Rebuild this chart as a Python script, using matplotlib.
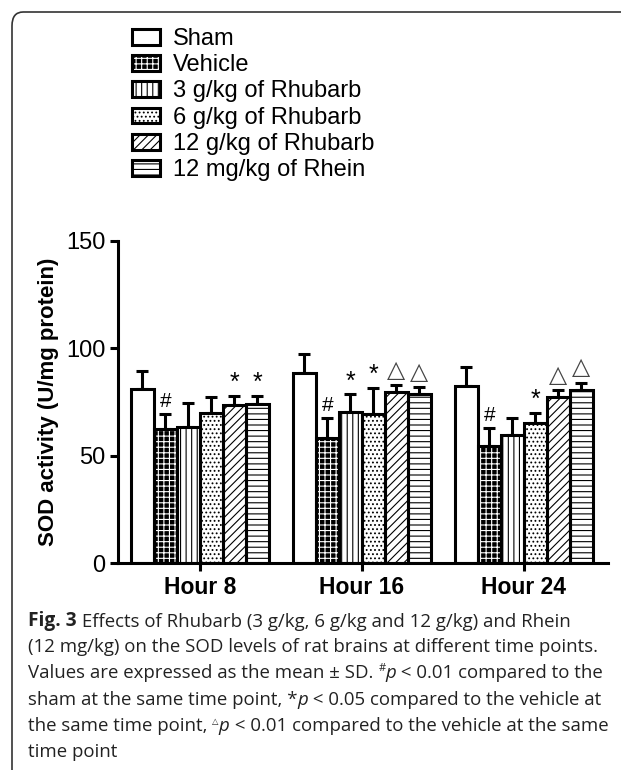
import matplotlib
matplotlib.use("Agg")
import matplotlib.pyplot as plt
from matplotlib.patches import Patch, FancyBboxPatch
from matplotlib.legend_handler import HandlerTuple
import numpy as np

# Data
groups = ["Hour 8", "Hour 16", "Hour 24"]
series = ["Sham", "Vehicle", "3 g/kg of Rhubarb", "6 g/kg of Rhubarb",
          "12 g/kg of Rhubarb", "12 mg/kg of Rhein"]
means = [
    [81, 62.5, 63.5, 70, 73.5, 74],      # Hour 8
    [88.5, 58, 70.5, 69.5, 79.5, 78.5],  # Hour 16
    [82.5, 54.5, 59.5, 65, 77.5, 80.5],  # Hour 24
]
sds = [
    [8.5, 7, 11, 7.5, 4.5, 4],
    [9, 9.5, 8, 12, 3.5, 3.5],
    [9, 8.5, 8, 5, 3, 3.5],
]
marks = [
    ["", "#", "", "", "*", "*"],
    ["", "#", "*", "*", "△", "△"],
    ["", "#", "", "*", "△", "△"],
]
yticks = [0, 50, 100, 150]

# hatch styles per series
face = ["white", "black", "white", "white", "white", "white"]
hatch_col = ["black", "white", "black", "black", "black", "black"]
hatches = [None, "+++", "|||", "....", "////", "---"]

plt.rcParams["font.family"] = ["Liberation Sans", "DejaVu Sans"]
plt.rcParams["hatch.linewidth"] = 0.8

fig = plt.figure(figsize=(6.21, 7.70), dpi=100)
ax = fig.add_axes([118 / 621, 1 - 563 / 770, 490 / 621, 322 / 770])

means = np.array(means)
sds = np.array(sds)
x = np.arange(len(groups))
w = 0.142
lw = 2.2

for i in range(len(series)):
    xi = x + (i - 2.5) * w
    m = means[:, i]
    s = sds[:, i]
    if hatches[i]:
        ax.bar(xi, m, w, color=face[i], edgecolor=hatch_col[i], hatch=hatches[i],
               linewidth=0, zorder=2)
    else:
        ax.bar(xi, m, w, color=face[i], linewidth=0, zorder=2)
    ax.bar(xi, m, w, fill=False, edgecolor="black", linewidth=lw, zorder=3)
    ax.errorbar(xi, m, yerr=[np.zeros_like(s), s], fmt="none", ecolor="black",
                elinewidth=lw, capsize=4.5, capthick=lw, zorder=1)
    for j in range(len(groups)):
        t = marks[j][i]
        top = m[j] + s[j]
        if t == "#":
            ax.text(xi[j], top + 1.5, t, ha="center", va="bottom", fontsize=15)
        elif t == "*":
            ax.text(xi[j], top + 0.5, t, ha="center", va="bottom", fontsize=18)
        elif t == "△":
            ax.text(xi[j], top + 1.5, t, ha="center", va="bottom", fontsize=17,
                    family="DejaVu Sans", color="#444444")

ax.set_xlim(-0.506, 2.519)
ax.set_ylim(0, 150)
ax.set_yticks(yticks)
ax.set_xticks(x)
ax.set_xticklabels(groups, fontsize=16.5, fontweight="bold")
ax.tick_params(axis="y", labelsize=17, width=lw, length=6, pad=3)
ax.tick_params(axis="x", width=lw, length=6, pad=3)
for sp in ["top", "right"]:
    ax.spines[sp].set_visible(False)
for sp in ["left", "bottom"]:
    ax.spines[sp].set_linewidth(lw)
ax.set_ylabel("SOD activity (U/mg protein)", fontsize=16, fontweight="bold",
              labelpad=5)

# legend
handles = []
for i in range(len(series)):
    if hatches[i]:
        p1 = Patch(facecolor=face[i], edgecolor=hatch_col[i], hatch=hatches[i], linewidth=0)
    else:
        p1 = Patch(facecolor=face[i], linewidth=0)
    p2 = Patch(fill=False, edgecolor="black", linewidth=lw)
    handles.append((p1, p2))
fig.legend(handles, series, handler_map={tuple: HandlerTuple(ndivide=1, pad=0)},
           loc="upper left", bbox_to_anchor=(132 / 621, 1 - 28 / 770),
           frameon=False, fontsize=17, handlelength=1.2, handleheight=0.65,
           handletextpad=0.55, labelspacing=0.18, borderaxespad=0, borderpad=0)

# caption, built from pieces so bold / italic / superscripts sit on one line
cap_size = 13.4
cap_font = "Open Sans"
normal = dict(fontsize=cap_size, family=cap_font, color="#222222")
bold = dict(normal, fontweight="bold", fontsize=13.8)
ital = dict(normal, style="italic")
sup = dict(normal, fontsize=8)
sup_tri = dict(normal, fontsize=6, family="DejaVu Sans")
cap = [
    [("Fig. 3", bold), (" Effects of Rhubarb (3 g/kg, 6 g/kg and 12 g/kg) and Rhein", normal)],
    [("(12 mg/kg) on the SOD levels of rat brains at different time points.", normal)],
    [("Values are expressed as the mean ± SD. ", normal), ("#", sup), ("p", ital),
     (" < 0.01 compared to the", normal)],
    [("sham at the same time point, *", normal), ("p", ital),
     (" < 0.05 compared to the vehicle at", normal)],
    [("the same time point, ", normal), ("△", sup_tri), ("p", ital),
     (" < 0.01 compared to the vehicle at the same", normal)],
    [("time point", normal)],
]
for k, line in enumerate(cap):
    y = 1 - (626 + 26.2 * k) / 770
    first = fig.text(28 / 621, y, line[0][0], va="baseline", ha="left", **line[0][1])
    prev = first
    for s, kw in line[1:]:
        dy = 6 if kw is sup or kw is sup_tri else 0
        prev = ax.annotate(s, xy=(1, 0), xycoords=(prev, first), xytext=(0, dy),
                           textcoords="offset points", va="bottom", ha="left",
                           annotation_clip=False, **kw)

# rounded frame
frame = FancyBboxPatch((12 / 621, -20 / 770), 700 / 621, 778 / 770,
                       boxstyle="round,pad=0,rounding_size=0.018",
                       transform=fig.transFigure, fill=False,
                       edgecolor="#333333", linewidth=1.2, clip_on=False)
fig.patches.append(frame)

fig.savefig("out.png", dpi=100)
